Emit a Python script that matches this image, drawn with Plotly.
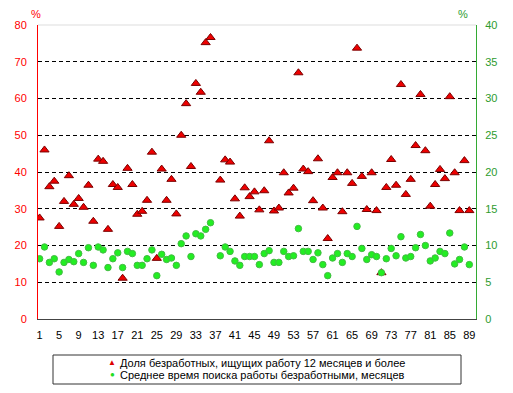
import plotly.graph_objects as go

regions = list(range(1, 90))

share_long_term = [
    27.5, 46.0, 36.0, 37.5, 25.2, 32.0, 39.0, 31.2, 32.8, 30.4,
    36.4, 26.6, 43.5, 42.9, 24.4, 36.6, 35.8, 11.1, 41.0, 36.6,
    28.5, 29.3, 32.3, 45.4, 16.5, 40.8, 32.3, 38.0, 28.6, 50.0,
    58.6, 41.5, 64.1, 61.7, 75.2, 76.6, None, 37.8, 43.3, 42.7,
    32.7, 28.0, 35.7, 33.3, 34.6, 29.7, 34.9, 48.5, 29.4, 30.2,
    39.8, 34.3, 35.6, 67.0, 40.8, 40.1, 32.2, 43.6, 30.2, 21.9,
    38.5, 39.8, 29.2, 39.8, 36.9, 73.7, 38.8, 29.8, 39.8, 29.5,
    12.6, 35.8, 43.4, 36.4, 63.8, 33.9, 38.0, 47.2, 61.1, 45.8,
    30.7, 36.6, 40.7, 38.2, 60.5, 39.8, 29.5, 43.1, 29.5,
]

avg_search_months = [
    8.2, 9.8, 7.7, 8.2, 6.4, 7.7, 8.1, 7.8, 8.9, 7.7,
    9.7, 7.3, 9.8, 9.4, 7.0, 8.2, 9.0, 7.0, 9.2, 8.9,
    7.3, 7.3, 8.2, 9.4, 5.9, 8.8, 8.1, 8.3, 7.3, 10.25,
    11.3, 8.5, 11.6, 11.3, 12.2, 13.1, None, 8.6, 9.8, 9.2,
    7.9, 7.3, 8.5, 8.5, 8.5, 7.4, 8.9, 9.3, 7.7, 7.7,
    9.2, 8.5, 8.6, 12.3, 9.2, 9.2, 8.1, 9.0, 7.4, 5.9,
    8.3, 8.9, 7.7, 8.9, 8.5, 12.6, 9.6, 8.1, 8.75, 8.5,
    6.3, 8.2, 9.6, 8.6, 11.2, 8.3, 8.5, 9.7, 11.5, 10.0,
    7.9, 8.3, 9.2, 8.9, 11.7, 7.5, 8.1, 9.8, 7.4,
]

x_ticks = list(range(1, 90, 4))
left_ticks = list(range(0, 81, 10))
right_ticks = list(range(0, 41, 5))

name_red = "Доля безработных, ищущих работу 12 месяцев и более"
name_green = "Среднее время поиска работы безработными, месяцев"

RED = "#FF0000"
GREEN_TXT = "#2E9B2E"
FONT = "Liberation Sans, Arial, sans-serif"

fig = go.Figure()
fig.add_trace(go.Scatter(
    x=regions, y=share_long_term, mode="markers", name=name_red,
    marker=dict(symbol="triangle-up", size=8, color="#EE0000",
                line=dict(color="#7A0000", width=1)),
    yaxis="y", showlegend=False,
))
fig.add_trace(go.Scatter(
    x=regions, y=avg_search_months, mode="markers", name=name_green,
    marker=dict(symbol="circle", size=6.5, color="#22EE22",
                line=dict(color="#44BB44", width=1)),
    yaxis="y2", showlegend=False,
))

def px_x(p):
    return (p - 38) / 438.0

def px_y(p):
    return (319 - p) / 294.0

fig.update_layout(
    width=513, height=393,
    margin=dict(l=38, r=37, t=25, b=74),
    paper_bgcolor="white", plot_bgcolor="white",
    font=dict(family=FONT, size=11, color="black"),
    xaxis=dict(
        range=[0.67, 90.37], tickvals=x_ticks, showgrid=False, zeroline=False,
        showline=True, linecolor="#444444", linewidth=1, ticks="",
        ticklabelstandoff=6, tickfont=dict(size=11, color="black"),
    ),
    yaxis=dict(
        range=[0, 80], tickvals=left_ticks, showgrid=True, gridcolor="black",
        griddash="4px,3px", gridwidth=1, zeroline=False,
        showline=True, linecolor=RED, linewidth=1, ticks="",
        ticklabelstandoff=8, tickfont=dict(size=11, color=RED),
    ),
    yaxis2=dict(
        range=[0, 40], tickvals=right_ticks, overlaying="y", side="right",
        showgrid=False, zeroline=False, showline=True, linecolor="#33AA33",
        linewidth=1, ticks="", ticklabelstandoff=6,
        tickfont=dict(size=11, color=GREEN_TXT),
    ),
    shapes=[
        dict(type="line", xref="paper", yref="paper", x0=0, x1=1, y0=1, y1=1,
             line=dict(color="#DDDDDD", width=1), layer="above"),
        dict(type="rect", xref="paper", yref="paper",
             x0=px_x(53), x1=px_x(461), y0=px_y(384), y1=px_y(355),
             line=dict(color="#333333", width=1)),
    ],
    annotations=[
        dict(text="%", xref="paper", yref="paper", x=px_x(36), y=px_y(14),
             showarrow=False, font=dict(size=11, color=RED),
             xanchor="center", yanchor="middle"),
        dict(text="%", xref="paper", yref="paper", x=px_x(463), y=px_y(14),
             showarrow=False, font=dict(size=11, color=GREEN_TXT),
             xanchor="center", yanchor="middle"),
        dict(text="▲", xref="paper", yref="paper", x=px_x(112), y=px_y(362),
             showarrow=False, font=dict(size=8, color="#DD0000"),
             xanchor="center", yanchor="middle"),
        dict(text=name_red, xref="paper", yref="paper", x=px_x(118), y=px_y(363),
             showarrow=False, font=dict(size=11, color="black"),
             xanchor="left", yanchor="middle"),
        dict(text="●", xref="paper", yref="paper", x=px_x(112), y=px_y(374),
             showarrow=False, font=dict(size=8, color="#22DD22"),
             xanchor="center", yanchor="middle"),
        dict(text=name_green, xref="paper", yref="paper", x=px_x(118), y=px_y(375),
             showarrow=False, font=dict(size=11, color="black"),
             xanchor="left", yanchor="middle"),
    ],
)

fig.write_html(
    "out.html",
    config={"displayModeBar": False},
    post_script="document.body.style.margin='0';document.body.style.overflow='hidden';",
)
